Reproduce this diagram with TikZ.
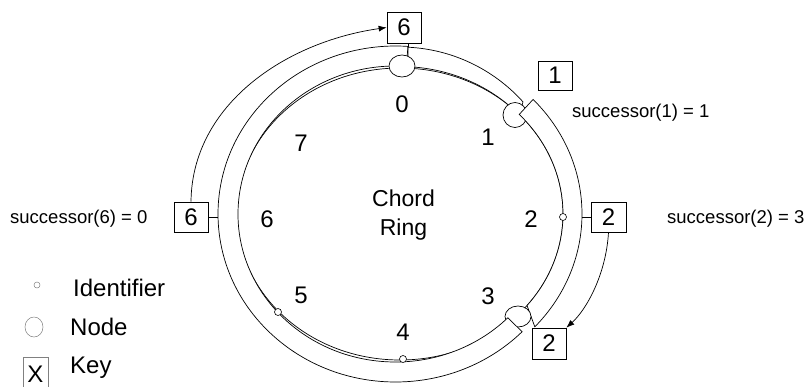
\documentclass[tikz,border=0pt]{standalone}
\usepackage{fontspec}
\setmainfont{Liberation Sans}
\usetikzlibrary{arrows.meta,calc,shapes.geometric}
\begin{document}
\begin{tikzpicture}[x=1pt,y=1pt,
  ring/.style={draw=black, line width=0.7pt},
  band/.style={draw=black, fill=white, line width=0.7pt},
  peer/.style={ellipse, draw=black, fill=white, line width=0.7pt, inner sep=0pt},
  ident/.style={circle, draw=black, fill=white, line width=0.6pt, minimum size=7pt, inner sep=0pt},
  keybox/.style={rectangle, draw=black, fill=white, line width=0.7pt, minimum width=34pt, minimum height=30pt, inner sep=0pt, font=\fontsize{24}{24}\selectfont},
  lbl/.style={font=\fontsize{24}{28}\selectfont, inner sep=0pt},
  succ/.style={font=\fontsize{18.5}{22}\selectfont, inner sep=0pt, anchor=base west},
  legendtext/.style={font=\fontsize{24}{28}\selectfont, inner sep=0pt, anchor=base west},
  link/.style={draw=black, line width=0.7pt},
  pointer/.style={draw=black, line width=0.7pt, -{Latex[length=8pt,width=6pt]}}]
\useasboundingbox (0,0) rectangle (808,-386);
\coordinate (C) at (400,-214);    % centre of the identifier circle
\coordinate (Cc) at (395.5,-214); % centre of the long key range

% identifier circle
\draw[ring] (C) ellipse[x radius=163, y radius=146];

% key range of node 1 (from 0 to 1)
\draw[band] ($(C)+(87.2:166 and 167)$) arc[start angle=87.2, end angle=42.2, x radius=166, y radius=167]
  -- ($(C)+(42:161 and 147.5)$) arc[start angle=42, end angle=87.2, x radius=161, y radius=147.5] -- cycle;
\node[peer, minimum width=24pt, minimum height=25pt] (n1) at (515,-115) {};

% key range of node 3 (from 1 to 3)
\draw[band] ($(C)+(43:182 and 168)$) arc[start angle=43, end angle=-42.2, x radius=182, y radius=168]
  -- ($(C)+(-38.8:163 and 146)$) arc[start angle=-38.8, end angle=43, x radius=163, y radius=146] -- cycle;
\node[peer, minimum width=26pt, minimum height=21pt] (n3) at (518,-316.5) {};

% key range of node 0 (from 3 round to 0)
\draw[band] ($(Cc)+(-44.5:177.5 and 168)$) arc[start angle=-44.5, end angle=-274, x radius=177.5, y radius=168]
  -- ($(Cc)+(-274:157.5 and 148)$) arc[start angle=-274, end angle=-44.5, x radius=157.5, y radius=148] -- cycle;
\node[peer, minimum width=26pt, minimum height=22pt] (n0) at (402,-66) {};

% identifiers
\node[ident] (i2) at (563,-217) {};
\node[ident] (i4) at (403,-359) {};
\node[ident] (i5) at (278,-312) {};

% keys
\node[keybox, minimum height=31pt] (k6t) at (404,-27.5) {6};
\node[keybox, minimum height=29pt] (k1) at (555,-75.5) {1};
\node[keybox, minimum width=35pt] (k2r) at (608.5,-217) {2};
\node[keybox] (k6l) at (191,-217) {6};
\node[keybox, minimum height=31pt] (k2b) at (549,-343.5) {2};

% keys attached to the ring
\coordinate (r0) at (408,-47);
\coordinate (rL) at (218,-217);
\coordinate (rR) at (582,-217);
\draw[link] (k6t.south -| r0) -- (r0);
\draw[link] (k6l.east) -- (rL);
\draw[link] (k2r.west) -- (rR);

% keys moved to their successors
\draw[pointer] (k6l.north) .. controls (192,-105) and (285,-42) .. (k6t.west);
\draw[pointer] (k2r.south) .. controls (606,-275) and (586,-310) .. (k2b.north east);

% identifier labels
\node[lbl] (l0) at (402,-104) {0};
\node[lbl] (l1) at (488,-137) {1};
\node[lbl] (l2) at (531,-219) {2};
\node[lbl] (l3) at (488,-296) {3};
\node[lbl] (l4) at (403,-332) {4};
\node[lbl] (l5) at (301,-295) {5};
\node[lbl] (l6) at (267,-219) {6};
\node[lbl] (l7) at (301,-143) {7};
\node[lbl, align=center, font=\fontsize{23}{29}\selectfont] (title) at (403.5,-215.5) {Chord\\Ring};

% successor notes
\node[succ] (s1) at (572,-117.5) {successor(1) = 1};
\node[succ] (s2) at (667,-223) {successor(2) = 3};
\node[succ] (s6) at (10,-223) {successor(6) = 0};

% legend
\node[ident, draw=gray, line width=0.5pt, minimum size=6pt] (li) at (37,-285) {};
\node[legendtext] (lit) at (73,-296) {Identifier};
\node[peer, draw=gray, line width=0.5pt, minimum width=18pt, minimum height=20pt] (ln) at (34,-327) {};
\node[legendtext] (lnt) at (70,-335) {Node};
\node[rectangle, draw=gray, line width=0.5pt, minimum width=25pt, minimum height=34pt, inner sep=0pt, font=\fontsize{24}{24}\selectfont] (lk) at (35.5,-374) {X};
\node[legendtext] (lkt) at (70,-373) {Key};
\end{tikzpicture}
\end{document}
